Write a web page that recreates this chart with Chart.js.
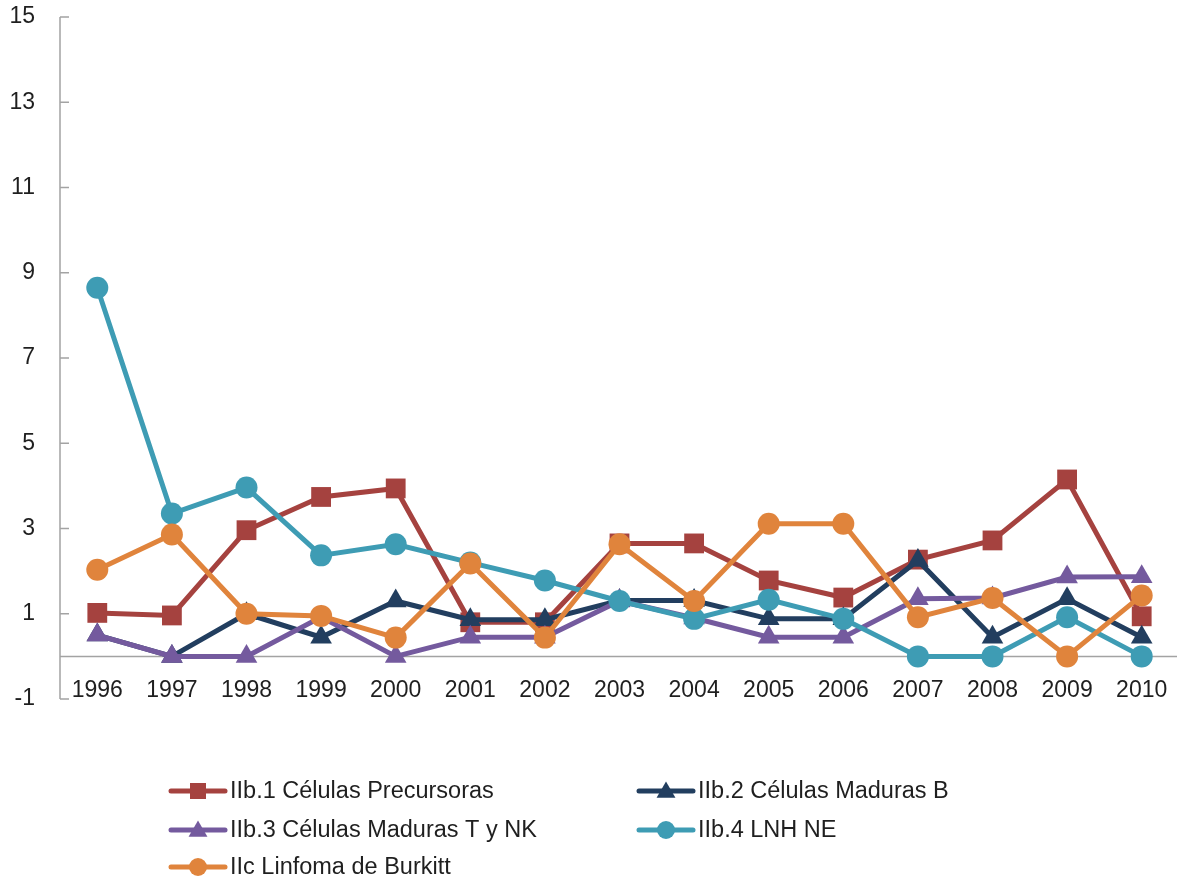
<!DOCTYPE html>
<html>
<head>
<meta charset="utf-8">
<title>Linfomas no Hodgkin 1996-2010</title>
<script src="https://cdn.jsdelivr.net/npm/chart.js@4.4.1/dist/chart.umd.min.js"></script>
<style>
  html, body { margin: 0; padding: 0; background: #fff; }
  #wrap { width: 1180px; height: 881px; position: relative; }
</style>
</head>
<body>
<div id="wrap"><canvas id="chart"></canvas></div>
<script>
// Series, one value per year
const years = ['1996', '1997', '1998', '1999', '2000', '2001', '2002', '2003', '2004', '2005', '2006', '2007', '2008', '2009', '2010'];
const precursoras = [1.02, 0.96, 2.96, 3.74, 3.94, 0.8, 0.8, 2.65, 2.65, 1.78, 1.38, 2.27, 2.72, 4.15, 0.94];
const madurasB = [0.5, 0, 1.0, 0.45, 1.3, 0.86, 0.86, 1.31, 1.31, 0.88, 0.88, 2.25, 0.45, 1.35, 0.45];
const madurasTNK = [0.5, 0, 0, 0.92, 0, 0.45, 0.45, 1.3, 0.9, 0.45, 0.45, 1.35, 1.37, 1.86, 1.87];
const lnhNE = [8.65, 3.35, 3.96, 2.37, 2.63, 2.2, 1.78, 1.3, 0.88, 1.33, 0.88, 0, 0, 0.92, 0];
const burkitt = [2.03, 2.86, 1.0, 0.95, 0.44, 2.18, 0.44, 2.63, 1.3, 3.11, 3.11, 0.92, 1.37, 0, 1.43];

const seriesNames = [
  'IIb.1 Células Precursoras',
  'IIb.2 Células Maduras B',
  'IIb.3 Células Maduras T y NK',
  'IIb.4 LNH NE',
  'IIc Linfoma de Burkitt'
];
const yTicks = { min: -1, max: 15, step: 2 };

const FONT = '"Liberation Sans", Arial, sans-serif';
const TEXT = '#1f1f1f';
const AXIS = '#a3a3a3';

const colors = ['#a5423f', '#223e5f', '#745a9e', '#3e9cb4', '#e0843c'];
const styles = ['rect', 'triangle', 'triangle', 'circle', 'circle'];
const radii = [14, 12.5, 12.5, 11, 11];
const values = [precursoras, madurasB, madurasTNK, lnhNE, burkitt];

const datasets = values.map((data, i) => ({
  label: seriesNames[i],
  data: data,
  borderColor: colors[i],
  backgroundColor: colors[i],
  borderWidth: 5,
  pointStyle: styles[i],
  pointRadius: radii[i],
  pointBorderWidth: 0,
  pointBackgroundColor: colors[i],
  tension: 0,
  order: values.length - i   // later series sit on top
}));

// axis lines, inward tick marks and year labels
const axisPlugin = {
  id: 'axisPlugin',
  beforeDatasetsDraw(chart) {
    const { ctx, chartArea, scales: { x, y } } = chart;
    ctx.save();
    ctx.strokeStyle = AXIS;
    ctx.lineWidth = 1.5;
    ctx.beginPath();
    ctx.moveTo(chartArea.left, y.getPixelForValue(yTicks.max));
    ctx.lineTo(chartArea.left, y.getPixelForValue(yTicks.min));
    y.ticks.forEach(t => {
      const py = y.getPixelForValue(t.value);
      ctx.moveTo(chartArea.left, py);
      ctx.lineTo(chartArea.left + 9, py);
    });
    const zero = y.getPixelForValue(0);
    ctx.moveTo(chartArea.left, zero);
    ctx.lineTo(chartArea.right - 2, zero);
    ctx.stroke();

    ctx.fillStyle = TEXT;
    ctx.font = '23px ' + FONT;
    ctx.textAlign = 'center';
    ctx.textBaseline = 'middle';
    const ly = y.getPixelForValue(yTicks.min) - 8;
    years.forEach((yr, i) => ctx.fillText(yr, x.getPixelForValue(i), ly));
    ctx.restore();
  }
};

function drawMarker(ctx, style, cx, cy, r) {
  ctx.beginPath();
  if (style === 'rect') {
    ctx.rect(cx - r, cy - r, 2 * r, 2 * r);
  } else if (style === 'triangle') {
    ctx.moveTo(cx, cy - r * 1.05);
    ctx.lineTo(cx + r * 1.05, cy + r * 0.75);
    ctx.lineTo(cx - r * 1.05, cy + r * 0.75);
    ctx.closePath();
  } else {
    ctx.arc(cx, cy, r, 0, Math.PI * 2);
  }
  ctx.fill();
}

// two-column legend below the plot
const legendPlugin = {
  id: 'legendPlugin',
  afterDraw(chart) {
    const { ctx } = chart;
    const cols = [171, 639];
    const rows = [791, 830, 867];
    ctx.save();
    ctx.font = '23.5px ' + FONT;
    ctx.textBaseline = 'middle';
    ctx.textAlign = 'left';
    chart.data.datasets.forEach((ds, i) => {
      const x0 = cols[i % 2];
      const yc = rows[Math.floor(i / 2)];
      ctx.strokeStyle = ds.borderColor;
      ctx.lineWidth = 5;
      ctx.lineCap = 'round';
      ctx.beginPath();
      ctx.moveTo(x0, yc);
      ctx.lineTo(x0 + 54, yc);
      ctx.stroke();
      ctx.fillStyle = ds.borderColor;
      drawMarker(ctx, ds.pointStyle, x0 + 27, yc, ds.pointStyle === 'rect' ? 8 : 9);
      ctx.fillStyle = TEXT;
      ctx.fillText(ds.label, x0 + 59, yc + 1);
    });
    ctx.restore();
  }
};

new Chart(document.getElementById('chart'), {
  type: 'line',
  data: { labels: years, datasets: datasets },
  options: {
    responsive: true,
    maintainAspectRatio: false,
    animation: false,
    layout: { autoPadding: false, padding: { top: 17, right: 1, bottom: 182, left: 0 } },
    plugins: {
      legend: { display: false },
      tooltip: { enabled: false }
    },
    scales: {
      x: { type: 'category', offset: true, display: false },
      y: {
        min: yTicks.min,
        max: yTicks.max,
        ticks: {
          stepSize: yTicks.step,
          padding: 25,
          color: TEXT,
          font: { family: FONT, size: 23 }
        },
        grid: { display: false, drawTicks: false },
        border: { display: false },
        afterFit(scale) {
          scale.width = 60;
          scale.paddingTop = 0;
          scale.paddingBottom = 0;
        }
      }
    }
  },
  plugins: [axisPlugin, legendPlugin]
});
</script>
</body>
</html>
